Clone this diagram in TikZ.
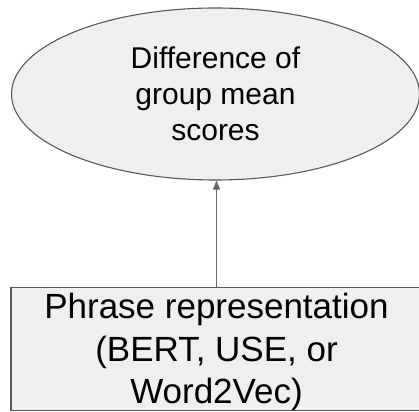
\documentclass[tikz,border=0pt]{standalone}
\usepackage{fontspec}
\setmainfont{Liberation Sans}
\usetikzlibrary{shapes.geometric,arrows.meta}
\definecolor{boxfill}{HTML}{EFEFEF}
\definecolor{boxline}{HTML}{595959}
\definecolor{arrowline}{HTML}{666666}
\tikzset{
  ellnode/.style={ellipse, draw=boxline, fill=boxfill, line width=1.1pt, inner sep=0pt,
    minimum width=408pt, minimum height=172pt, align=center,
    font=\fontsize{30}{36}\selectfont},
  repbox/.style={rectangle, draw=boxline, fill=boxfill, line width=1.1pt, inner sep=0pt,
    minimum width=411pt, align=center,
    font=\fontsize{35}{42.5}\selectfont},
  connector/.style={draw=arrowline, line width=1.3pt,
    -{Triangle[length=9pt,width=7pt]}}
}
\begin{document}
\begin{tikzpicture}[x=1pt,y=1pt]
\useasboundingbox (0,0) rectangle (419,411);
\clip (0,0) rectangle (419,411);
\fill[white] (0,0) rectangle (419,411);
\node[ellnode] (ell) at (215.5,317) {Difference of\\group mean\\scores};
\node[repbox, anchor=north] (rep) at (216.5,124)
  {\rule{0pt}{31pt}Phrase representation\\(BERT, USE, or\\Word2Vec)\rule[-7pt]{0pt}{7pt}};
\draw[connector] (rep.north) -- (rep.north |- ell.south);
\end{tikzpicture}
\end{document}
